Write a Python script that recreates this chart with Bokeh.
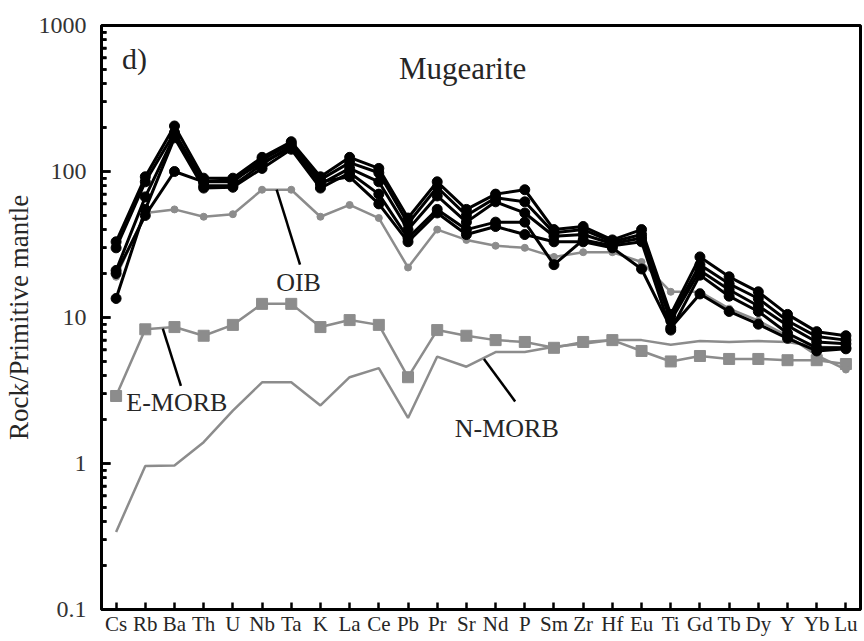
from bokeh.plotting import figure
from bokeh.models import FactorRange, Range1d, Label, FixedTicker, CustomJSTickFormatter
from bokeh.embed import file_html
from bokeh.resources import INLINE

elements = ["Cs", "Rb", "Ba", "Th", "U", "Nb", "Ta", "K", "La", "Ce", "Pb", "Pr", "Sr",
            "Nd", "P", "Sm", "Zr", "Hf", "Eu", "Ti", "Gd", "Tb", "Dy", "Y", "Yb", "Lu"]

sample_a = [33, 92, 205, 90, 90, 125, 160, 92, 125, 105, 48, 85, 55, 70, 75, 40, 42, 34, 40, 10.5, 26, 19, 15, 10.5, 8.0, 7.5]
sample_b = [30, 85, 185, 85, 85, 120, 155, 88, 115, 98, 44, 78, 50, 66, 62, 38, 40, 33, 37, 10.0, 23, 17, 13.5, 9.5, 7.4, 7.0]
sample_c = [21, 67, 175, 80, 80, 112, 150, 82, 105, 85, 40, 68, 45, 62, 52, 36, 37, 32, 35, 9.5, 21, 15.5, 12, 8.8, 6.8, 6.6]
sample_d = [13.5, 55, 170, 77, 78, 105, 142, 77, 98, 70, 35, 55, 40, 45, 45, 23, 34, 31, 33, 8.2, 19.5, 14, 11, 7.8, 6.2, 6.2]
sample_e = [20, 50, 100, 85, 88, 115, 145, 85, 92, 60, 33, 52, 37, 42, 37, 33, 33, 30, 21.5, 8.5, 14.5, 11, 9.0, 7.2, 5.9, 6.1]
samples = [sample_a, sample_b, sample_c, sample_d, sample_e]

oib = [19, 52, 55, 49, 51, 75, 75, 49, 59, 48, 22, 40, 34, 31, 30, 26, 28, 28, 24, 15, 15, 11.5, 9.5, 7.5, 5.5, 4.4]
e_morb = [2.9, 8.3, 8.6, 7.5, 8.9, 12.4, 12.4, 8.6, 9.6, 8.9, 3.9, 8.2, 7.5, 7.0, 6.8, 6.2, 6.8, 7.0, 5.9, 5.0, 5.45, 5.2, 5.2, 5.1, 5.1, 4.8]
n_morb = [0.34, 0.96, 0.97, 1.4, 2.3, 3.6, 3.6, 2.5, 3.9, 4.5, 2.05, 5.4, 4.6, 5.8, 5.8, 6.3, 6.6, 7.0, 7.0, 6.5, 6.9, 6.8, 6.9, 6.8, 6.3, 6.2]

y_ticks = [0.1, 1, 10, 100, 1000]
y_minor_ticks = [0.2, 0.3, 0.4, 0.5, 0.6, 0.7, 0.8, 0.9,
                 2, 3, 4, 5, 6, 7, 8, 9,
                 20, 30, 40, 50, 60, 70, 80, 90,
                 200, 300, 400, 500, 600, 700, 800, 900]

SERIF = "Liberation Serif"
GREY = "#8c8c8c"
TEXT = "#262626"

p = figure(width=862, height=638,
           x_range=FactorRange(factors=elements, range_padding=0),
           y_range=Range1d(0.1, 1000), y_axis_type="log",
           output_backend="svg", toolbar_location=None,
           min_border_left=97, min_border_right=2, min_border_top=25, min_border_bottom=26)

p.xgrid.visible = False
p.ygrid.visible = False
p.outline_line_color = "black"
p.outline_line_width = 3
p.background_fill_color = "white"
p.border_fill_color = "white"

# Axes
p.yaxis.ticker = FixedTicker(ticks=y_ticks, minor_ticks=y_minor_ticks)
p.yaxis.formatter = CustomJSTickFormatter(code="return Number(tick.toPrecision(3)).toString();")
p.yaxis.axis_line_width = 3
p.yaxis.axis_line_color = "black"
p.yaxis.major_tick_in = 9
p.yaxis.major_tick_out = 0
p.yaxis.minor_tick_in = 5
p.yaxis.minor_tick_out = 0
p.yaxis.major_tick_line_width = 2.5
p.yaxis.minor_tick_line_width = 2.5
p.yaxis.major_label_text_font = SERIF
p.yaxis.major_label_text_font_size = "24px"
p.yaxis.major_label_text_color = "#333333"
p.yaxis.major_label_standoff = 15
p.yaxis.axis_label = "Rock/Primitive mantle"
p.yaxis.axis_label_text_font = SERIF
p.yaxis.axis_label_text_font_size = "27px"
p.yaxis.axis_label_text_font_style = "normal"
p.yaxis.axis_label_text_color = TEXT
p.yaxis.axis_label_standoff = 2

p.xaxis.axis_line_width = 3
p.xaxis.major_tick_in = 7
p.xaxis.major_tick_out = 0
p.xaxis.major_tick_line_width = 2.5
p.xaxis.major_label_text_font = SERIF
p.xaxis.major_label_text_font_size = "21px"
p.xaxis.major_label_text_color = TEXT
p.xaxis.major_label_standoff = 2

# Inward y-axis tick marks drawn at the left frame edge (x = start of the factor range)
p.scatter(x=[0] * len(y_minor_ticks), y=y_minor_ticks, marker="dash", size=10,
          line_color="black", line_width=2.5)
p.scatter(x=[0] * len(y_ticks), y=y_ticks, marker="dash", size=18,
          line_color="black", line_width=2.5)

# Reference compositions
p.line(x=elements, y=n_morb, line_color=GREY, line_width=2.5)
p.line(x=elements, y=e_morb, line_color=GREY, line_width=2.5)
p.scatter(x=elements, y=e_morb, marker="square", size=11, fill_color=GREY, line_color=GREY)
p.line(x=elements, y=oib, line_color=GREY, line_width=2.5)
p.scatter(x=elements, y=oib, marker="circle", size=7, fill_color=GREY, line_color=GREY)

# Mugearite samples
for s in samples:
    p.line(x=elements, y=s, line_color="black", line_width=3)
    p.scatter(x=elements, y=s, marker="circle", size=10, fill_color="black", line_color="black")

# Leader lines
p.segment(x0=[6.0, 2.1, 13.1], y0=[75, 8.4, 5.2],
          x1=[6.8, 2.72, 14.17], y1=[23, 3.4, 2.66],
          line_color="black", line_width=2.5)

def add_label(text, x, y, size, align="left"):
    p.add_layout(Label(x=x, y=y, text=text, text_font=SERIF, text_font_size=size,
                       text_color=TEXT, text_align=align, text_baseline="middle"))

add_label("d)", 0.7, 590, "30px")
add_label("Mugearite", 12.37, 505, "31px", align="center")
add_label("OIB", 6.75, 17.5, "26px", align="center")
add_label("E-MORB", 0.85, 2.6, "26px")
add_label("N-MORB", 12.1, 1.75, "26px")

open("out.html", "w").write(file_html(p, INLINE))
